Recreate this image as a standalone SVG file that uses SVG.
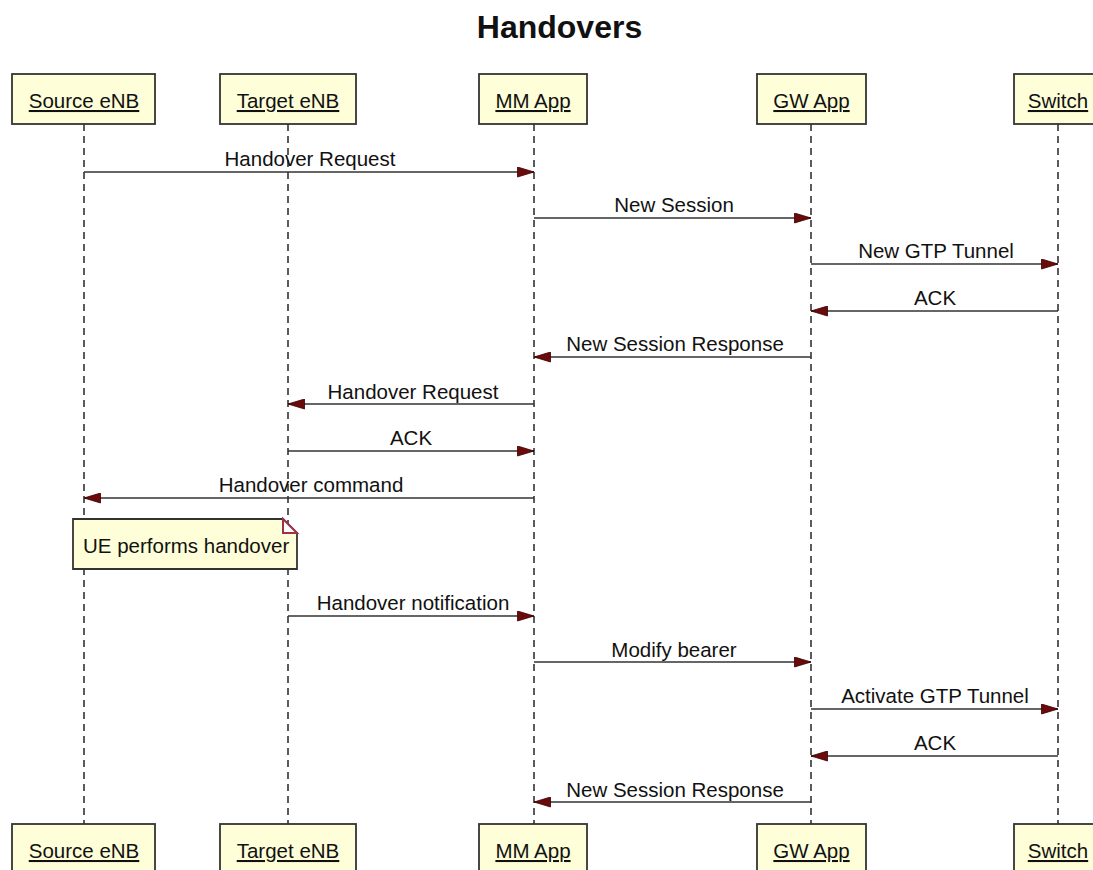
<svg xmlns="http://www.w3.org/2000/svg" width="1093" height="870" viewBox="0 0 1093 870">
<style>
  text { font-family: "Liberation Sans", Arial, sans-serif; fill: #111; }
  .title { font-size: 32px; font-weight: bold; text-anchor: middle; }
  .actor rect { fill: #FEFED8; stroke: #333; stroke-width: 1.8; }
  .actor text { font-size: 20.5px; text-anchor: middle; text-decoration: underline; }
  .life { stroke: #333; stroke-width: 1.6; stroke-dasharray: 7 5; fill: none; }
  .msg line { stroke: #333; stroke-width: 1.6; marker-end: url(#ah); }
  .msg text { font-size: 20.5px; text-anchor: middle; }
  .note path.body { fill: #FEFED8; stroke: #333; stroke-width: 1.8; }
  .note path.fold { fill: #fff; stroke: #A0304A; stroke-width: 2; }
  .note text { font-size: 20.5px; }
</style>
<defs>
  <marker id="ah" viewBox="0 0 17 11" refX="17" refY="5.5" markerWidth="17" markerHeight="11" orient="auto" markerUnits="userSpaceOnUse">
    <path d="M0.5,0.5 L17,5.5 L0.5,10.5 Z" fill="#6B0A0A" stroke="#3A0000" stroke-width="0.8"/>
  </marker>
</defs>
<rect width="1093" height="870" fill="#fff"/>
<text class="title" x="559.5" y="38">Handovers</text>

<g id="lifelines">
  <line class="life" x1="84" y1="124" x2="84" y2="824"/>
  <line class="life" x1="288" y1="124" x2="288" y2="824"/>
  <line class="life" x1="534" y1="124" x2="534" y2="824"/>
  <line class="life" x1="811" y1="124" x2="811" y2="824"/>
  <line class="life" x1="1058" y1="124" x2="1058" y2="824"/>
</g>

<g id="source-enb" class="actor">
  <rect x="12" y="74" width="143" height="50"/>
  <text x="84" y="108">Source eNB</text>
  <rect x="12" y="824" width="143" height="50"/>
  <text x="84" y="858">Source eNB</text>
</g>
<g id="target-enb" class="actor">
  <rect x="220" y="74" width="136" height="50"/>
  <text x="288" y="108">Target eNB</text>
  <rect x="220" y="824" width="136" height="50"/>
  <text x="288" y="858">Target eNB</text>
</g>
<g id="mm-app" class="actor">
  <rect x="479" y="74" width="108" height="50"/>
  <text x="533" y="108">MM App</text>
  <rect x="479" y="824" width="108" height="50"/>
  <text x="533" y="858">MM App</text>
</g>
<g id="gw-app" class="actor">
  <rect x="757" y="74" width="109" height="50"/>
  <text x="811.5" y="108">GW App</text>
  <rect x="757" y="824" width="109" height="50"/>
  <text x="811.5" y="858">GW App</text>
</g>
<g id="switch" class="actor">
  <rect x="1014" y="74" width="88" height="50"/>
  <text x="1058" y="108">Switch</text>
  <rect x="1014" y="824" width="88" height="50"/>
  <text x="1058" y="858">Switch</text>
</g>

<g id="connectors" class="msg">
  <line x1="84" y1="172" x2="534" y2="172"/>
  <text x="310" y="166">Handover Request</text>
  <line x1="534" y1="218" x2="811" y2="218"/>
  <text x="674" y="212">New Session</text>
  <line x1="811" y1="264" x2="1058" y2="264"/>
  <text x="936" y="258">New GTP Tunnel</text>
  <line x1="1058" y1="311" x2="811" y2="311"/>
  <text x="935" y="305">ACK</text>
  <line x1="811" y1="357" x2="534" y2="357"/>
  <text x="675" y="351">New Session Response</text>
  <line x1="534" y1="404" x2="288" y2="404"/>
  <text x="413" y="399">Handover Request</text>
  <line x1="288" y1="451" x2="534" y2="451"/>
  <text x="411" y="445">ACK</text>
  <line x1="534" y1="498" x2="84" y2="498"/>
  <text x="311" y="492">Handover command</text>
  <line x1="288" y1="616" x2="534" y2="616"/>
  <text x="413" y="610">Handover notification</text>
  <line x1="534" y1="662" x2="811" y2="662"/>
  <text x="674" y="657">Modify bearer</text>
  <line x1="811" y1="709" x2="1058" y2="709"/>
  <text x="935" y="703">Activate GTP Tunnel</text>
  <line x1="1058" y1="756" x2="811" y2="756"/>
  <text x="935" y="750">ACK</text>
  <line x1="811" y1="802" x2="534" y2="802"/>
  <text x="675" y="797">New Session Response</text>
</g>

<g id="note-ue" class="note">
  <path class="body" d="M73,519 H283 L297,533 V569 H73 Z"/>
  <path class="fold" d="M283,519 V533 H297 Z"/>
  <text x="83" y="553">UE performs handover</text>
</g>
</svg>
